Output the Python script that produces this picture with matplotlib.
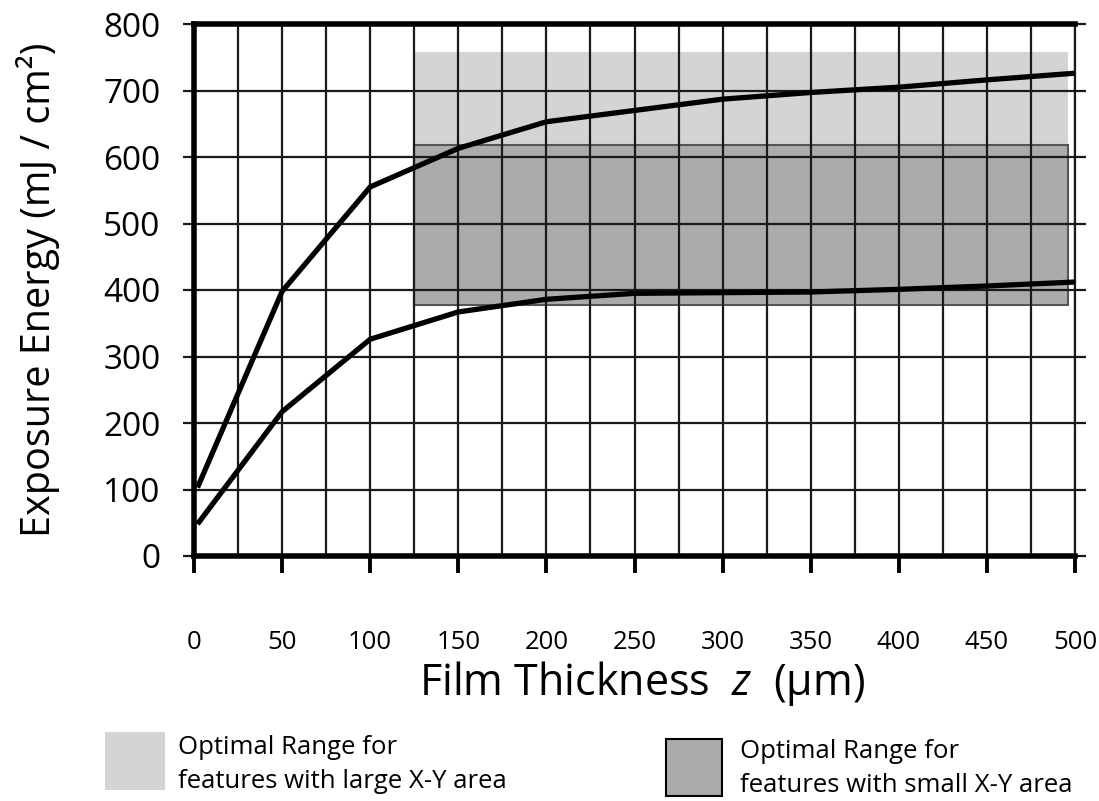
import matplotlib
matplotlib.use("Agg")
import matplotlib.pyplot as plt
from matplotlib.patches import Rectangle
from matplotlib.ticker import MultipleLocator

# ---- data ----
thickness = [2, 50, 100, 150, 200, 250, 300, 350, 400, 450, 500]
energy_upper = [103, 398, 555, 613, 653, 670, 687, 697, 705, 716, 726]
energy_lower = [48, 217, 326, 367, 386, 395, 396, 397, 401, 406, 412]
x_ticks = [0, 50, 100, 150, 200, 250, 300, 350, 400, 450, 500]
y_ticks = [0, 100, 200, 300, 400, 500, 600, 700, 800]
large_range_x = (125, 496)
large_range_y = (620, 758)
small_range_x = (125, 496)
small_range_y = (377, 618)

plt.rcParams['font.family'] = ['Open Sans', 'DejaVu Sans']
plt.rcParams['mathtext.fontset'] = 'custom'
plt.rcParams['mathtext.rm'] = 'Open Sans'
plt.rcParams['mathtext.it'] = 'Open Sans:italic'

fig = plt.figure(figsize=(10.99, 8.01), dpi=100)
ax = fig.add_axes([194/1099, 245/801, 881/1099, 532/801])

light = '#d4d4d2'
dark = '#ababab'
grid_c = '#1a1a1a'

ax.add_patch(Rectangle((large_range_x[0], large_range_y[0]),
                       large_range_x[1]-large_range_x[0], large_range_y[1]-large_range_y[0],
                       facecolor=light, edgecolor='none', zorder=1))
ax.add_patch(Rectangle((small_range_x[0], small_range_y[0]),
                       small_range_x[1]-small_range_x[0], small_range_y[1]-small_range_y[0],
                       facecolor=dark, edgecolor='#555555', linewidth=1.5, zorder=1.1))

ax.plot(thickness, energy_upper, color='black', linewidth=3.8, zorder=3, solid_capstyle='butt')
ax.plot(thickness, energy_lower, color='black', linewidth=3.8, zorder=3, solid_capstyle='butt')

ax.set_xlim(0, 500)
ax.set_ylim(0, 800)
ax.set_xticks(x_ticks)
ax.set_xticklabels([str(v) for v in x_ticks])
ax.set_yticks(y_ticks)
ax.set_yticklabels([str(v) for v in y_ticks])
ax.xaxis.set_minor_locator(MultipleLocator(25))

ax.set_axisbelow(False)
ax.grid(True, which='both', axis='x', color=grid_c, linewidth=1.6, zorder=2)
ax.grid(True, which='major', axis='y', color=grid_c, linewidth=1.6, zorder=2)

ax.tick_params(axis='x', which='major', direction='out', length=12, width=2.8,
               color='black', labelsize=18.5, pad=41)
ax.tick_params(axis='x', which='minor', length=0)
ax.tick_params(axis='y', which='major', direction='out', length=8, width=1.6,
               color=grid_c, labelsize=24, pad=16, right=True)

for s in ['left', 'bottom', 'top']:
    ax.spines[s].set_linewidth(4)
    ax.spines[s].set_zorder(4)
ax.spines['right'].set_linewidth(1.6)
ax.spines['right'].set_color(grid_c)

fig.text(642/1099, 1-683/801, 'Film Thickness  $z$  (\u03bcm)', fontsize=31,
         ha='center', va='center')
fig.text(38/1099, 1-290/801, 'Exposure Energy (mJ / cm\u00b2)', fontsize=28.5,
         ha='center', va='center', rotation=90)

# legend
fig.patches.append(Rectangle((105/1099, 11/801), 60/1099, 58/801, facecolor=light,
                             edgecolor='none', transform=fig.transFigure, figure=fig))
fig.patches.append(Rectangle((666/1099, 5/801), 56/1099, 57/801, facecolor=dark,
                             edgecolor='black', linewidth=1.5, transform=fig.transFigure, figure=fig))
fig.text(178/1099, 1-748/801, 'Optimal Range for', fontsize=18.5, ha='left', va='center')
fig.text(178/1099, 1-782/801, 'features with large X-Y area', fontsize=18.5, ha='left', va='center')
fig.text(740/1099, 1-752/801, 'Optimal Range for', fontsize=18.5, ha='left', va='center')
fig.text(740/1099, 1-786/801, 'features with small X-Y area', fontsize=18.5, ha='left', va='center')

fig.savefig('out.png', dpi=100)
